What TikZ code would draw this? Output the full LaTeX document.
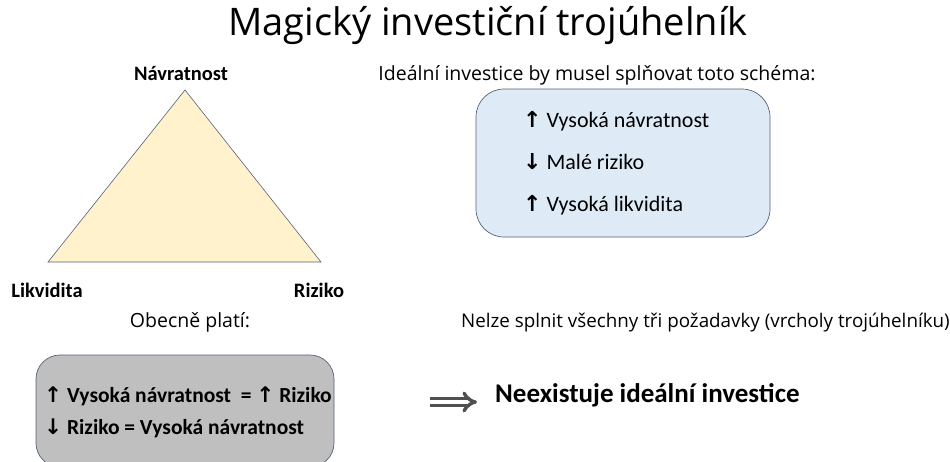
\documentclass[tikz,border=0pt]{standalone}
\usepackage{fontspec}
\usepackage{xcolor}
\setmainfont{Carlito}
\newfontfamily\uifont{Open Sans}
\newfontfamily\symfont{DejaVu Sans}
\usetikzlibrary{arrows.meta}

\definecolor{trifill}{RGB}{255,242,204}
\definecolor{edgecol}{RGB}{84,98,120}
\definecolor{bluefill}{RGB}{222,235,247}
\definecolor{greyfill}{RGB}{191,191,191}
\definecolor{arrgrey}{RGB}{80,80,80}

\newcommand{\arrup}{{\symfont\bfseries ↑}}
\newcommand{\arrdown}{{\symfont\bfseries ↓}}

\tikzset{
  lbl/.style={inner sep=0pt, text height=2.4ex, text depth=.3ex},
  uitext/.style={lbl, font=\uifont\fontsize{19.5}{22}\selectfont},
  vertex/.style={lbl, font=\bfseries\fontsize{20.5}{24}\selectfont},
  boxtext/.style={lbl, anchor=west, font=\fontsize{22}{26}\selectfont},
  roundbox/.style={draw=edgecol, line width=0.7pt}
}

\begin{document}
\begin{tikzpicture}[x=1pt, y=-1pt]
\useasboundingbox (0,0) rectangle (950,461);
\clip (0,0) rectangle (950,461);

\node[lbl, font=\uifont\fontsize{38}{42}\selectfont] (title) at (488,30) {Magický investiční trojúhelník};

\coordinate (apex) at (185,90);
\coordinate (lcorner) at (48,262);
\coordinate (rcorner) at (321,262);
\draw[edgecol, fill=trifill, line width=0.6pt] (apex) -- (rcorner) -- (lcorner) -- cycle;
\node[vertex] (navr) at (181,75) {Návratnost};
\node[vertex] (likv) at (47,292) {Likvidita};
\node[vertex] (rizi) at (319,292) {Riziko};

\node[uitext] (idealhead) at (597,75) {Ideální investice by musel splňovat toto schéma:};
\node[roundbox, fill=bluefill, rounded corners=28pt, minimum width=294pt, minimum height=148pt] (idealbox) at (623,163) {};
\node[boxtext] (ideal1) at (523,122) {\arrup\ Vysoká návratnost};
\node[boxtext] (ideal2) at (523,164) {\arrdown\ Malé riziko};
\node[boxtext] (ideal3) at (523,206) {\arrup\ Vysoká likvidita};

\node[uitext] (obecne) at (190,322) {Obecně platí:};
\node[roundbox, fill=greyfill, rounded corners=24pt, minimum width=298pt, minimum height=112pt] (greybox) at (185,411) {};
\node[boxtext, font=\bfseries\fontsize{21.5}{26}\selectfont] (grey1) at (44,397) {\arrup\ Vysoká návratnost\ \ = \arrup\ Riziko};
\node[boxtext, font=\bfseries\fontsize{21.5}{26}\selectfont] (grey2) at (44,429) {\arrdown\ Riziko = Vysoká návratnost};

\node[uitext, anchor=west, font=\uifont\fontsize{18.8}{22}\selectfont] (nelze) at (461,322) {Nelze splnit všechny tři požadavky (vrcholy trojúhelníku)};
\node[lbl, anchor=west, font=\bfseries\fontsize{27}{30}\selectfont] (neex) at (495,397) {Neexistuje ideální investice};
\coordinate (arrstart) at (430,402);
\draw[arrgrey, line width=3.4pt, double, double distance=3.2pt, -{Implies[scale=1.3]}] (arrstart) -- ([xshift=-18pt, yshift=-5pt]neex.west);
\end{tikzpicture}
\end{document}
